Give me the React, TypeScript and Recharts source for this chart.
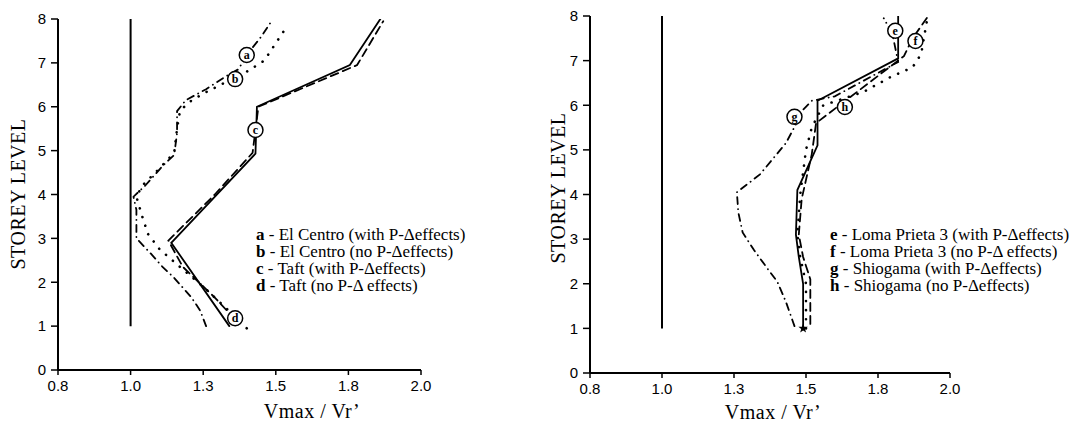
import React from 'react';
import { LineChart, Line, XAxis, YAxis, ReferenceLine, ReferenceDot, Legend } from 'recharts';

// x = Vmax / Vr', y = storey level
const xTicks = [0.75, 1.0, 1.25, 1.5, 1.75, 2.0];
const storeyTicks = [0, 1, 2, 3, 4, 5, 6, 7, 8];

// left panel - El Centro / Taft
const elCentroWithX = [1.40, 1.33, 1.25, 1.17, 1.10, 1.06, 1.04, 1.02, 1.04, 1.10, 1.15, 1.16, 1.17, 1.20, 1.25, 1.31, 1.40, 1.46, 1.49, 1.53];
const elCentroWithY = [0.95, 1.4, 1.9, 2.35, 2.75, 3.1, 3.5, 3.95, 4.2, 4.6, 4.95, 5.5, 5.9, 6.1, 6.3, 6.5, 6.8, 7.05, 7.35, 7.75];
const elCentroNoX = [1.26, 1.24, 1.21, 1.15, 1.11, 1.07, 1.02, 1.02, 1.02, 1.01, 1.05, 1.11, 1.15, 1.16, 1.16, 1.19, 1.26, 1.33, 1.37, 1.42, 1.45, 1.48];
const elCentroNoY = [1.0, 1.35, 1.65, 2.1, 2.35, 2.65, 3.0, 3.3, 3.65, 3.95, 4.2, 4.65, 4.9, 5.4, 5.9, 6.15, 6.4, 6.7, 6.85, 7.35, 7.6, 7.9];
const taftWithX = [1.34, 1.14, 1.43, 1.435, 1.755, 1.86];
const taftWithY = [1.0, 2.9, 4.93, 6.0, 6.95, 8.0];
const taftNoX = [1.36, 1.29, 1.18, 1.13, 1.29, 1.42, 1.44, 1.78, 1.87];
const taftNoY = [1.15, 1.65, 2.35, 2.95, 4.0, 4.95, 6.0, 6.95, 7.95];

// right panel - Loma Prieta 3 / Shiogama
const lomaWithX = [1.49, 1.49, 1.475, 1.465, 1.47, 1.54, 1.54, 1.82, 1.82];
const lomaWithY = [1.0, 2.0, 2.6, 3.1, 4.1, 5.1, 6.1, 7.05, 8.0];
const lomaNoX = [1.515, 1.515, 1.49, 1.475, 1.485, 1.52, 1.535, 1.84, 1.87, 1.93];
const lomaNoY = [1.1, 2.1, 2.6, 3.1, 3.9, 4.9, 5.6, 7.1, 7.5, 8.05];
const shioWithX = [1.46, 1.43, 1.40, 1.365, 1.32, 1.28, 1.265, 1.26, 1.34, 1.43, 1.455, 1.49, 1.52, 1.60, 1.82, 1.80, 1.77];
const shioWithY = [1.05, 1.6, 2.05, 2.35, 2.75, 3.15, 3.6, 4.05, 4.45, 5.15, 5.45, 5.9, 6.1, 6.2, 6.97, 7.6, 7.95];
const shioNoX = [1.50, 1.50, 1.48, 1.47, 1.48, 1.50, 1.52, 1.56, 1.70, 1.79, 1.87, 1.90, 1.92];
const shioNoY = [1.0, 2.0, 2.6, 3.1, 4.0, 5.0, 5.5, 6.0, 6.3, 6.62, 6.85, 7.15, 7.9];

// circled letter tags
const leftTagX = [1.40, 1.36, 1.43, 1.36];
const leftTagY = [7.18, 6.63, 5.47, 1.18];
const rightTagX = [1.81, 1.88, 1.46, 1.635];
const rightTagY = [7.67, 7.44, 5.74, 5.96];

const leftLetters = ['a', 'b', 'c', 'd'];
const rightLetters = ['e', 'f', 'g', 'h'];
const leftNames = ['El Centro (with P-\u0394effects)', 'El Centro (no P-\u0394effects)', 'Taft (with P-\u0394effects)', 'Taft (no P-\u0394 effects)'];
const rightNames = ['Loma Prieta 3 (with P-\u0394effects)', 'Loma Prieta 3 (no P-\u0394 effects)', 'Shiogama (with P-\u0394effects)', 'Shiogama (no P-\u0394effects)'];

const toPoints = (xs: number[], ys: number[]) => xs.map((x, i) => ({ x, y: ys[i] }));

const SOLID = undefined;
const DASHED = '8 5';
const DOTTED = '0.1 9';
const DASHDOT = '7 5 0.1 5';

const serif = '"Liberation Serif", "Times New Roman", serif';
const sans = '"Liberation Sans", Arial, sans-serif';

interface Series { letter: string; name: string; data: { x: number; y: number }[]; dash?: string }

const leftSeries: Series[] = [
  { letter: 'a', name: leftNames[0], data: toPoints(elCentroWithX, elCentroWithY), dash: DOTTED },
  { letter: 'b', name: leftNames[1], data: toPoints(elCentroNoX, elCentroNoY), dash: DASHDOT },
  { letter: 'c', name: leftNames[2], data: toPoints(taftWithX, taftWithY), dash: SOLID },
  { letter: 'd', name: leftNames[3], data: toPoints(taftNoX, taftNoY), dash: DASHED },
];

const rightSeries: Series[] = [
  { letter: 'e', name: rightNames[0], data: toPoints(lomaWithX, lomaWithY), dash: SOLID },
  { letter: 'f', name: rightNames[1], data: toPoints(lomaNoX, lomaNoY), dash: DASHED },
  { letter: 'g', name: rightNames[2], data: toPoints(shioWithX, shioWithY), dash: DASHDOT },
  { letter: 'h', name: rightNames[3], data: toPoints(shioNoX, shioNoY), dash: DOTTED },
];

const LegendBlock: React.FC<{ letters: string[]; names: string[] }> = ({ letters, names }) => (
  <div style={{ fontFamily: serif, fontSize: 17, lineHeight: '17px', color: '#000', whiteSpace: 'nowrap' }}>
    {names.map((n, i) => (
      <div key={n}>
        <b>{letters[i]}</b> - {n}
      </div>
    ))}
  </div>
);

const Star = (props: any) => {
  const { cx, cy } = props;
  const pts: string[] = [];
  for (let i = 0; i < 10; i++) {
    const r = i % 2 === 0 ? 5 : 2;
    const a = (Math.PI / 5) * i - Math.PI / 2;
    pts.push(`${cx + r * Math.cos(a)},${cy + r * Math.sin(a)}`);
  }
  return <polygon points={pts.join(' ')} fill="#000" />;
};

interface PanelProps {
  left: number;
  width: number;
  margin: { top: number; right: number; bottom: number; left: number };
  series: Series[];
  tagX: number[];
  tagY: number[];
  letters: string[];
  names: string[];
  legendPos: { left: number; top: number };
  star?: boolean;
}

const Panel: React.FC<PanelProps> = ({ left, width, margin, series, tagX, tagY, letters, names, legendPos, star }) => (
  <div style={{ position: 'absolute', left, top: 0 }}>
    <LineChart width={width} height={428} margin={margin}>
      <XAxis
        type="number"
        dataKey="x"
        domain={[0.75, 2]}
        ticks={xTicks}
        tickFormatter={(v: number) => v.toFixed(1)}
        height={30}
        tickSize={5}
        tickMargin={5}
        axisLine={{ stroke: '#000', strokeWidth: 2 }}
        tickLine={{ stroke: '#000', strokeWidth: 1.5 }}
        tick={{ fill: '#000', fontSize: 15, fontFamily: sans }}
        allowDataOverflow
      />
      <YAxis
        type="number"
        domain={[0, 8]}
        ticks={storeyTicks}
        width={40}
        tickSize={7}
        tickMargin={5}
        axisLine={{ stroke: '#000', strokeWidth: 2 }}
        tickLine={{ stroke: '#000', strokeWidth: 1.5 }}
        tick={{ fill: '#000', fontSize: 15, fontFamily: sans }}
        allowDataOverflow
      />
      <ReferenceLine segment={[{ x: 1, y: 1 }, { x: 1, y: 8 }]} stroke="#000" strokeWidth={2} />
      {series.map((s) => (
        <Line
          key={s.letter}
          data={s.data}
          dataKey="y"
          name={s.name}
          type="linear"
          stroke="#000"
          strokeWidth={s.dash === DOTTED ? 2.6 : 1.8}
          strokeDasharray={s.dash}
          strokeLinecap="round"
          dot={false}
          activeDot={false}
          isAnimationActive={false}
        />
      ))}
      {star && <ReferenceDot x={series[0].data[0].x} y={series[0].data[0].y} shape={Star} />}
      {letters.map((l, i) => (
        <ReferenceDot
          key={l}
          x={tagX[i]}
          y={tagY[i]}
          r={7.5}
          fill="#fff"
          stroke="#000"
          strokeWidth={1.5}
          label={{ value: l, position: 'center', fontSize: 12, fontWeight: 'bold', fontFamily: serif, fill: '#000' }}
        />
      ))}
      <Legend
        layout="vertical"
        align="center"
        verticalAlign="middle"
        wrapperStyle={{ left: legendPos.left, top: legendPos.top, width: 'auto' }}
        content={() => <LegendBlock letters={letters} names={names} />}
      />
    </LineChart>
  </div>
);

const axisTitle: React.CSSProperties = {
  position: 'absolute',
  fontFamily: serif,
  fontSize: 20,
  color: '#000',
  whiteSpace: 'nowrap',
  letterSpacing: 0.5,
};

const App: React.FC = () => (
  <div style={{ position: 'absolute', left: 0, top: 0, width: 1083, height: 428, background: '#fff', overflow: 'hidden' }}>
    <Panel
      left={0}
      width={440}
      margin={{ top: 19, right: 19, bottom: 28, left: 18 }}
      series={leftSeries}
      tagX={leftTagX}
      tagY={leftTagY}
      letters={leftLetters}
      names={leftNames}
      legendPos={{ left: 256, top: 226 }}
    />
    <Panel
      left={540}
      width={430}
      margin={{ top: 16, right: 20, bottom: 25, left: 10 }}
      series={rightSeries}
      tagX={rightTagX}
      tagY={rightTagY}
      letters={rightLetters}
      names={rightNames}
      legendPos={{ left: 290, top: 226 }}
      star
    />
    <div style={{ ...axisTitle, left: 18, top: 194, transform: 'translate(-50%, -50%) rotate(-90deg)' }}>STOREY LEVEL</div>
    <div style={{ ...axisTitle, left: 558, top: 188, transform: 'translate(-50%, -50%) rotate(-90deg)' }}>STOREY LEVEL</div>
    <div style={{ ...axisTitle, left: 312, top: 411, transform: 'translate(-50%, -50%)' }}>Vmax / Vr’</div>
    <div style={{ ...axisTitle, left: 773, top: 412, transform: 'translate(-50%, -50%)' }}>Vmax / Vr’</div>
  </div>
);

export default App;
